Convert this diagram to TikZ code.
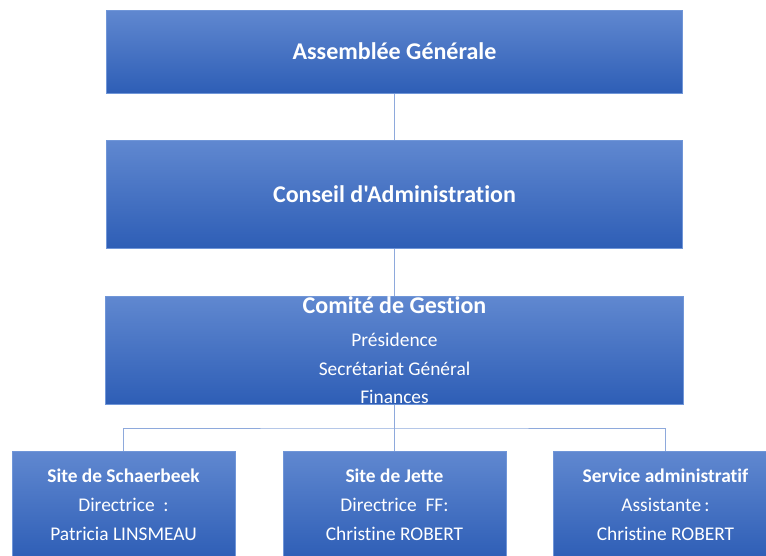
\documentclass[tikz,border=0pt]{standalone}
\usepackage{fontspec}
\setmainfont[Ligatures={TeXOff,NoCommon}]{Carlito}
\definecolor{boxtop}{HTML}{6088D0}
\definecolor{boxmid}{HTML}{4472C4}
\definecolor{boxbot}{HTML}{2E5EB6}
\definecolor{boxline}{HTML}{7096D8}
\definecolor{connline}{HTML}{8EA9DC}
\tikzset{
  orgbox/.style={shade, top color=boxtop, middle color=boxmid, bottom color=boxbot,
    draw=boxline, line width=1pt, text=white, align=center, inner sep=0pt},
  conn/.style={draw=connline, line width=1pt},
  bigtitle/.style={font=\fontsize{24}{28}\selectfont\bfseries},
  smalltext/.style={font=\fontsize{19.4}{29}\selectfont},
}
\begin{document}
\begin{tikzpicture}[x=1pt,y=-1pt]
\useasboundingbox (0,0) rectangle (766,555);
\clip (0,0) rectangle (766,555);
\node[orgbox, bigtitle, minimum width=576, minimum height=83] (b1) at (394.5,51.5) {Assemblée Générale};
\node[orgbox, bigtitle, minimum width=576, minimum height=108] (b2) at (394.5,194) {Conseil d'Administration};
\node[orgbox, smalltext, minimum width=578, minimum height=108] (b3) at (394.5,350)
  {{\fontsize{24}{28}\selectfont\bfseries Comité de Gestion}\\[4pt]
   Présidence\\ Secrétariat Général\\[-1pt] Finances};
\node[orgbox, smalltext, minimum width=223, minimum height=108] (b4) at (123.5,505)
  {\textbf{Site de Schaerbeek}\\ Directrice\ \ :\\ Patricia LINSMEAU};
\node[orgbox, smalltext, minimum width=223, minimum height=108] (b5) at (394.5,505)
  {\textbf{Site de Jette}\\ Directrice\ \ FF:\\ Christine ROBERT};
\node[orgbox, smalltext, minimum width=225, minimum height=108] (b6) at (665.5,505)
  {\textbf{Service administratif}\\ Assistante\,:\\ Christine ROBERT};
\coordinate (bus) at (394.5,428);
\draw[conn] (b1.south) -- (b2.north);
\draw[conn] (b2.south) -- (b3.north);
\draw[conn] (b3.south) -- (b5.north);
\draw[conn] (b4.north) |- (bus) -| (b6.north);
\end{tikzpicture}
\end{document}
